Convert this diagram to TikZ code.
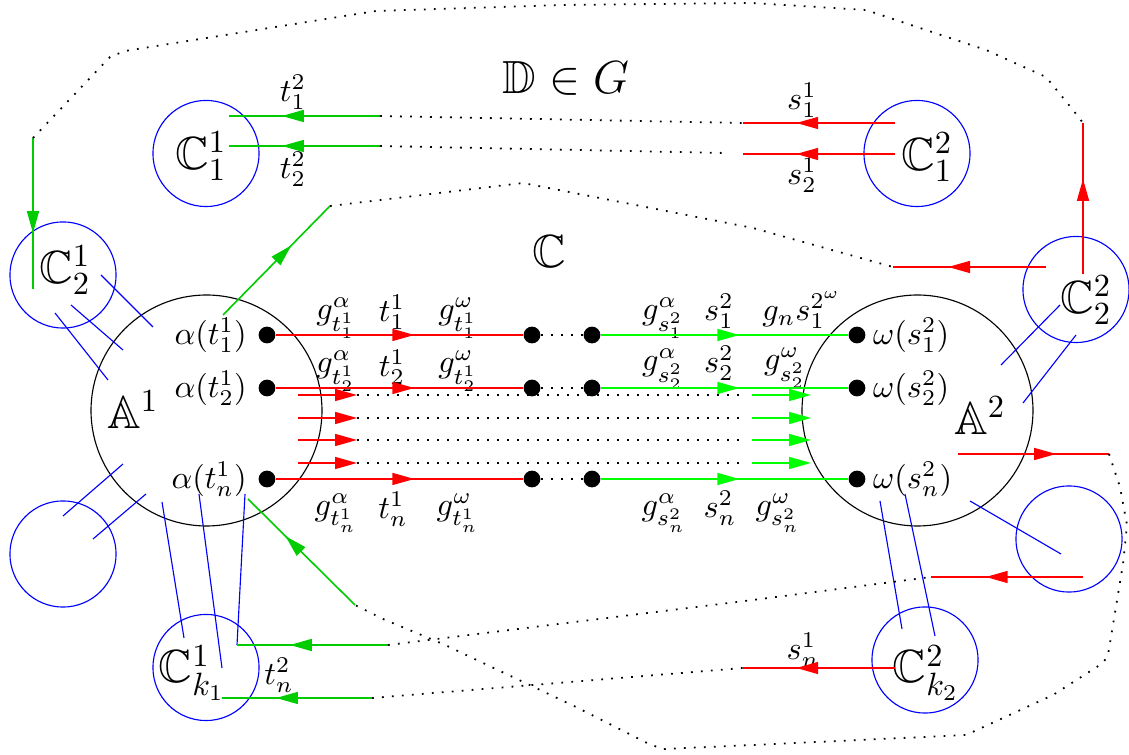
\documentclass[tikz,border=0pt]{standalone}
\usepackage{amssymb}
\usetikzlibrary{arrows.meta,decorations.markings}
\definecolor{fgreen}{RGB}{0,204,0}
\tikzset{
  bigcirc/.style={circle,draw,line width=0.35pt,minimum size=71.6pt,inner sep=0pt},
  smallcirc/.style={circle,draw=blue,line width=0.35pt,minimum size=32.9pt,inner sep=0pt},
  dotnode/.style={circle,fill,minimum size=5.2pt,inner sep=0pt},
  biglbl/.style={font=\Large,inner sep=0pt},
  lbl/.style={inner sep=0pt},
  tie/.style={draw=blue,line width=0.35pt},
  dotline/.style={line width=0.55pt,dash pattern=on 0.55pt off 2.55pt},
  wire/.style={line width=0.5pt},
  arr/.style={wire,postaction={decorate},decoration={markings,
    mark=at position #1 with {\arrow{Triangle[length=6.8pt,width=3.7pt]}}}},
  arr/.default=0.64,
  tipped/.style={wire,-{Triangle[length=6.8pt,width=3.7pt]}}
}
\begin{document}
\begin{tikzpicture}[x=0.31pt,y=-0.31pt]
  \useasboundingbox (0,0) rectangle (1129,755);
  \node[bigcirc] (A1) at (206.5,410.5) {};
  \node[bigcirc] (A2) at (917.5,410.5) {};
  \node[smallcirc] (C11) at (206,153.5) {};
  \node[smallcirc] (C21) at (63,275) {};
  \node[smallcirc] (C12) at (917,153.5) {};
  \node[smallcirc] (C22) at (1076,289.5) {};
  \node[smallcirc] (E1) at (63,554) {};
  \node[smallcirc] (Ck1) at (206,667.5) {};
  \node[smallcirc] (E2) at (1069,539) {};
  \node[smallcirc] (Ck2) at (925,660) {};

  \node[biglbl] (lA1) at (133,410) {$\mathbb{A}^1$};
  \node[biglbl] (lA2) at (980,416) {$\mathbb{A}^2$};
  \node[biglbl] (lC11) at (201,156) {$\mathbb{C}_1^1$};
  \node[biglbl] (lC21) at (65,270) {$\mathbb{C}_2^1$};
  \node[biglbl] (lC12) at (927,157) {$\mathbb{C}_1^2$};
  \node[biglbl] (lC22) at (1086,300) {$\mathbb{C}_2^2$};
  \node[biglbl] (lCk1) at (192,673) {$\mathbb{C}_{k_1}^1$};
  \node[biglbl] (lCk2) at (926,673) {$\mathbb{C}_{k_2}^2$};
  \node[biglbl] (lC) at (549,252) {$\mathbb{C}$};
  \node[biglbl] (lD) at (566,78) {$\mathbb{D}\in G$};

  \node[dotnode] (a1) at (267,335) {};
  \node[dotnode] (a2) at (267,388) {};
  \node[dotnode] (an) at (267,479) {};
  \node[dotnode] (m1) at (532,335) {};
  \node[dotnode] (m2) at (532,388) {};
  \node[dotnode] (mn) at (532,479) {};
  \node[dotnode] (k1) at (592,335) {};
  \node[dotnode] (k2) at (592,388) {};
  \node[dotnode] (kn) at (592,479) {};
  \node[dotnode] (w1) at (857,335) {};
  \node[dotnode] (w2) at (857,388) {};
  \node[dotnode] (wn) at (857,479) {};

  \node[anchor=east] (la1) at (a1.west) {$\alpha(t_1^1)$};
  \node[anchor=east] (la2) at (a2.west) {$\alpha(t_2^1)$};
  \node[anchor=east] (lan) at (an.west) {$\alpha(t_n^1)$};
  \node[anchor=west,inner sep=2pt] (lw1) at (w1.east) {$\omega(s_1^2)$};
  \node[anchor=west,inner sep=2pt] (lw2) at (w2.east) {$\omega(s_2^2)$};
  \node[anchor=west,inner sep=2pt] (lwn) at (wn.east) {$\omega(s_n^2)$};

  \node[lbl] (ga1) at (336,318) {$g^{\alpha}_{t_1^1}$};
  \node[lbl] (t11) at (392,312.5) {$t_1^1$};
  \node[lbl] (go1) at (458,318) {$g^{\omega}_{t_1^1}$};
  \node[lbl] (gs1) at (663,318) {$g^{\alpha}_{s_1^2}$};
  \node[lbl] (s12) at (719,311.5) {$s_1^2$};
  \node[lbl] (gw1) at (802,310) {$g_ns_1^{2^\omega}$};
  \node[lbl] (ga2) at (336,371) {$g^{\alpha}_{t_2^1}$};
  \node[lbl] (t21) at (392,367) {$t_2^1$};
  \node[lbl] (go2) at (458,371) {$g^{\omega}_{t_2^1}$};
  \node[lbl] (gs2) at (663,369) {$g^{\alpha}_{s_2^2}$};
  \node[lbl] (s22) at (719,363) {$s_2^2$};
  \node[lbl] (gw2) at (785,368) {$g^{\omega}_{s_2^2}$};
  \node[lbl] (gan) at (336,513) {$g^{\alpha}_{t_n^1}$};
  \node[lbl] (tn1) at (393,509.5) {$t_n^1$};
  \node[lbl] (gon) at (458,513) {$g^{\omega}_{t_n^1}$};
  \node[lbl] (gsn) at (664,513) {$g^{\alpha}_{s_n^2}$};
  \node[lbl] (sn2) at (720,508.5) {$s_n^2$};
  \node[lbl] (gwn) at (778,513) {$g^{\omega}_{s_n^2}$};

  \node[lbl] (lt12) at (293,92.5) {$t_1^2$};
  \node[lbl] (lt22) at (293,169) {$t_2^2$};
  \node[lbl] (ls11) at (802,100) {$s_1^1$};
  \node[lbl] (ls21) at (802,175) {$s_2^1$};
  \node[lbl] (ltn2) at (279,675) {$t_n^2$};
  \node[lbl] (lsn1) at (803,650) {$s_n^1$};

  \coordinate (p1) at (298,395);
  \coordinate (p2) at (298,418);
  \coordinate (p3) at (298,440);
  \coordinate (p4) at (298,463);
  \coordinate (q1) at (357,395);
  \coordinate (q2) at (357,418);
  \coordinate (q3) at (357,440);
  \coordinate (q4) at (357,463);
  \coordinate (u1) at (745,395);
  \coordinate (u2) at (745,418);
  \coordinate (u3) at (745,440);
  \coordinate (u4) at (745,463);
  \coordinate (v1) at (752,395);
  \coordinate (v2) at (752,418);
  \coordinate (v3) at (752,440);
  \coordinate (v4) at (752,463);
  \coordinate (z1) at (811,395);
  \coordinate (z2) at (811,418);
  \coordinate (z3) at (811,440);
  \coordinate (z4) at (811,463);

  \coordinate (b1) at (33,138);
  \coordinate (b2) at (33,289);
  \coordinate (r1) at (1083,274);
  \coordinate (r2) at (1083,123);
  \coordinate (g1) at (223,315);
  \coordinate (g2) at (330,206);
  \coordinate (r3) at (1046,267);
  \coordinate (r4) at (893,267);
  \coordinate (t1a) at (380,116);
  \coordinate (t1b) at (229,116);
  \coordinate (t2a) at (380,146);
  \coordinate (t2b) at (229,146);
  \coordinate (s1a) at (895,123);
  \coordinate (s1b) at (743,123);
  \coordinate (s2a) at (895,154);
  \coordinate (s2b) at (743,154);
  \coordinate (r5) at (958,454);
  \coordinate (r6) at (1109,454);
  \coordinate (g3) at (355,605);
  \coordinate (g4) at (248,499);
  \coordinate (g6) at (388,645);
  \coordinate (g5) at (237,645);
  \coordinate (r7) at (1083,577);
  \coordinate (r8) at (931,577);
  \coordinate (g7) at (372,698);
  \coordinate (g8) at (222,698);
  \coordinate (r9) at (895,668);
  \coordinate (r10) at (743,668);

  \begin{scope}[tie]
    \draw (101,275) -- (153,327);
    \draw (71,305) -- (123,350);
    \draw (55,313) -- (108,380);
    \draw (63,516) -- (123,464);
    \draw (93,539) -- (146,494);
    \draw (162,502) -- (184,638);
    \draw (199,494) -- (222,668);
    \draw (g5) -- (245,494);
    \draw (1060,305) -- (1001,365);
    \draw (1076,335) -- (1023,403);
    \draw (970,501) -- (1061,554);
    \draw (880,501) -- (902,629);
    \draw (905,494) -- (935,636);
  \end{scope}

  \draw[red,arr=0.56] (a1) -- (m1);
  \draw[red,arr=0.56] (a2) -- (m2);
  \draw[red,arr=0.56] (an) -- (mn);
  \draw[dotline] (m1) -- (k1);
  \draw[dotline] (m2) -- (k2);
  \draw[dotline] (mn) -- (kn);
  \draw[green,arr=0.56] (k1) -- (w1);
  \draw[green,arr=0.56] (k2) -- (w2);
  \draw[green,arr=0.56] (kn) -- (wn);

  \draw[red,tipped] (p1) -- (q1);
  \draw[red,tipped] (p2) -- (q2);
  \draw[red,tipped] (p3) -- (q3);
  \draw[red,tipped] (p4) -- (q4);
  \draw[dotline] (q1) -- (u1);
  \draw[dotline] (q2) -- (u2);
  \draw[dotline] (q3) -- (u3);
  \draw[dotline] (q4) -- (u4);
  \draw[green,tipped] (v1) -- (z1);
  \draw[green,tipped] (v2) -- (z2);
  \draw[green,tipped] (v3) -- (z3);
  \draw[green,tipped] (v4) -- (z4);

  \draw[fgreen,arr=0.63] (b1) -- (b2);
  \draw[red,arr=0.63] (r1) -- (r2);
  \draw[dotline] (b1) -- (110,57) -- (125,51) -- (376,11) -- (563,5) -- (752,3)
    -- (866,10) -- (986,50) -- (1046,77) -- (1073,110) -- (r2);

  \draw[fgreen,arr] (g1) -- (g2);
  \draw[red,arr] (r3) -- (r4);
  \draw[dotline] (g2) -- (523,183) -- (753,228) -- (r4);

  \draw[fgreen,arr=0.65] (t1a) -- (t1b);
  \draw[fgreen,arr=0.65] (t2a) -- (t2b);
  \draw[red,arr=0.65] (s1a) -- (s1b);
  \draw[red,arr=0.65] (s2a) -- (s2b);
  \draw[dotline] (t1a) -- (s1b);
  \draw[dotline] (t2a) -- (726,153);

  \draw[red,arr=0.65] (r5) -- (r6);
  \draw[fgreen,arr=0.65] (g3) -- (g4);
  \draw[dotline] (r6) -- (1120,487) -- (1127,525) -- (1123,564) -- (1108,655)
    -- (1103,663) -- (1053,695) -- (966,735) -- (753,745) -- (663,749)
    -- (649,744) -- (576,707) -- (443,644) -- (383,619) -- (g3);

  \draw[fgreen,arr=0.65] (g6) -- (g5);
  \draw[red,arr=0.64] (r7) -- (r8);
  \draw[dotline] (g6) -- (753,600) -- (r8);
  \draw[fgreen,arr=0.64] (g7) -- (g8);
  \draw[red,arr=0.65] (r9) -- (r10);
  \draw[dotline] (g7) -- (r10);
\end{tikzpicture}
\end{document}
